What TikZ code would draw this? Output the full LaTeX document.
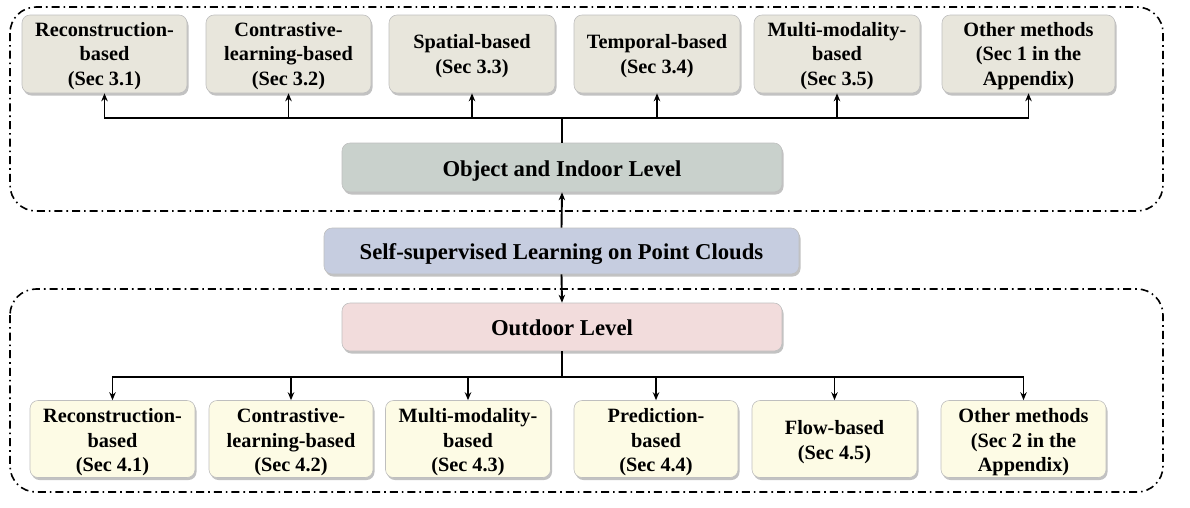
\documentclass[tikz,border=0pt]{standalone}
\usepackage{fontspec}
\setmainfont{Liberation Serif}
\usetikzlibrary{shadows,arrows.meta,positioning}
\definecolor{topfill}{HTML}{E8E6DC}
\definecolor{objfill}{HTML}{C9D1CC}
\definecolor{sslfill}{HTML}{C6CDE0}
\definecolor{outfill}{HTML}{F2DCDC}
\definecolor{botfill}{HTML}{FDFBE5}
\newcommand{\tstrA}{\rule{0pt}{18pt}}
\newcommand{\bstrA}{\rule{0pt}{20.5pt}}
\tikzset{
  boxbase/.style={rounded corners=8pt, draw=black!25, line width=0.6pt, align=center,
    font=\fontsize{20.3}{24.8}\selectfont\bfseries,
    drop shadow={shadow xshift=1.5pt, shadow yshift=-2.5pt, fill=black!40, opacity=0.6},
    inner sep=0pt},
  topbox/.style={boxbase, fill=topfill, minimum height=78pt},
  botbox/.style={boxbase, fill=botfill, minimum height=77pt},
  levelbox/.style={boxbase, font=\fontsize{22.7}{26}\selectfont\bfseries,
    text height=19.5pt, text depth=2pt},
  conn/.style={line width=1.9pt, black},
  arr/.style={conn, -{Stealth[length=8pt,width=6.5pt]}},
  frame/.style={line width=1.6pt, rounded corners=26pt, dash pattern=on 8pt off 4pt on 1.6pt off 4pt}
}
\begin{document}
\begin{tikzpicture}[x=1pt,y=-1pt]
\useasboundingbox (0,0) rectangle (1190,507);
% frames
\draw[frame] (10,7) rectangle (1163,211);
\draw[frame] (10,289) rectangle (1163,492);
% top boxes
\node[topbox, minimum width=165pt] (t1) at (104.5,54) {\tstrA Reconstruction-\\based\\(Sec 3.1)};
\node[topbox, minimum width=165pt] (t2) at (288.5,54) {\tstrA Contrastive-\\learning-based\\(Sec 3.2)};
\node[topbox, minimum width=166pt] (t3) at (472,54) {\tstrA Spatial-based\\(Sec 3.3)};
\node[topbox, minimum width=166pt] (t4) at (657,54) {\tstrA Temporal-based\\(Sec 3.4)};
\node[topbox, minimum width=166pt] (t5) at (837,54) {\tstrA Multi-modality-\\based\\(Sec 3.5)};
\node[topbox, minimum width=173pt] (t6) at (1028.5,54) {\tstrA Other methods\\(Sec 1 in the\\Appendix)};
% level boxes
\node[levelbox, fill=objfill, minimum width=440pt, minimum height=49pt] (obj) at (562,167.5) {Object and Indoor Level};
\node[levelbox, fill=sslfill, minimum width=475pt, minimum height=46pt] (ssl) at (561.5,251) {Self-supervised Learning on Point Clouds};
\node[levelbox, fill=outfill, minimum width=440pt, minimum height=48pt] (out) at (562,327) {Outdoor Level};
% bottom boxes
\node[botbox, minimum width=165pt] (b1) at (112.5,439) {\bstrA Reconstruction-\\based\\(Sec 4.1)};
\node[botbox, minimum width=164pt] (b2) at (291,439) {\bstrA Contrastive-\\learning-based\\(Sec 4.2)};
\node[botbox, minimum width=165pt] (b3) at (468,439) {\bstrA Multi-modality-\\based\\(Sec 4.3)};
\node[botbox, minimum width=164pt] (b4) at (656,439) {\bstrA Prediction-\\based\\(Sec 4.4)};
\node[botbox, minimum width=165pt] (b5) at (834.5,439) {\bstrA Flow-based\\(Sec 4.5)};
\node[botbox, minimum width=165pt] (b6) at (1023.5,439) {\bstrA Other methods\\(Sec 2 in the\\Appendix)};
% junctions
\coordinate (jt) at (562,118);
\coordinate (jb) at (562,377);
% connectors
\draw[conn] (obj.north) -- (jt);
\foreach \b in {t1,t2,t3,t4,t5,t6} { \draw[arr] (jt) -| (\b.south); }
\draw[arr] (ssl.north) -- (obj.south);
\draw[arr] (ssl.south) -- (out.north);
\draw[conn] (out.south) -- (jb);
\foreach \b in {b1,b2,b3,b4,b5,b6} { \draw[arr] (jb) -| (\b.north); }
\end{tikzpicture}
\end{document}
